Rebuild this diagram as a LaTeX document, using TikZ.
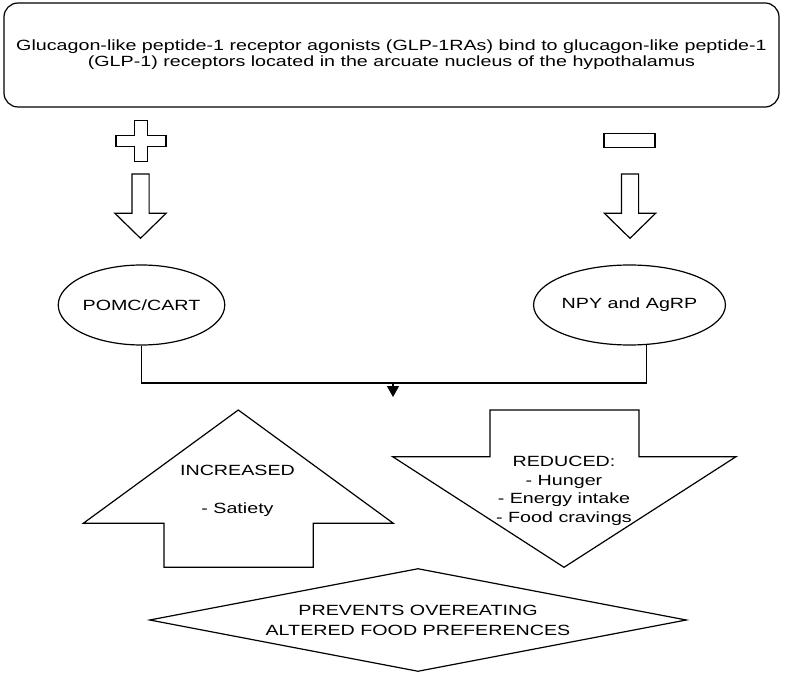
\documentclass[tikz,border=0pt]{standalone}
\usepackage{fontspec}
\setmainfont{Liberation Sans}[FakeStretch=1.33]
\usetikzlibrary{shapes.geometric, arrows.meta}
\tikzstyle{box} = [rectangle, rounded corners=14pt,
minimum width=775pt,
minimum height=104pt,
text centered,
align=center,
draw=black, line width=1.2pt,
font=\fontsize{14.8}{16.2}\selectfont]
\tikzstyle{cell} = [ellipse,
minimum width=147pt,
minimum height=80pt,
inner sep=0pt,
draw=black, line width=1.2pt,
font=\fontsize{14.8}{18.5}\selectfont]
\tikzstyle{outcome} = [diamond, aspect=5.2,
minimum width=537pt,
minimum height=103pt,
inner sep=0pt,
align=center,
draw=black, line width=1.2pt,
font=\fontsize{14.8}{20}\selectfont]
\tikzstyle{txt} = [align=center, font=\fontsize{14.8}{18.5}\selectfont]
\tikzstyle{outline} = [draw=black, line width=1.2pt, line join=miter]
\tikzstyle{wire} = [draw=black, line width=1.2pt]
\tikzstyle{arrow} = [wire, -{Triangle[width=12pt,length=11pt]}]

\begin{document}
\begin{tikzpicture}[x=1pt, y=-1pt]
    \useasboundingbox (0,0) rectangle (787,676);
    \node (top) [box] at (391.5,55) {Glucagon-like peptide-1 receptor agonists (GLP-1RAs) bind to glucagon-like peptide-1\\(GLP-1) receptors located in the arcuate nucleus of the hypothalamus};
    \node (pomc) [cell] at (141.5,305) {POMC/CART};
    \node (npy) [cell, right of=pomc, node distance=488pt] {NPY and AgRP};

    % plus and minus
    \draw [outline] (134.8,120.5) -- (147.2,120.5) -- (147.2,135.8) -- (166,135.8) -- (166,146.2) -- (147.2,146.2) -- (147.2,161.5) -- (134.8,161.5) -- (134.8,146.2) -- (116,146.2) -- (116,135.8) -- (134.8,135.8) -- cycle;
    \draw [outline] (604,133.3) rectangle (655,147.7);
    \foreach \c in {140.5,630}
        \draw [outline] ({\c-8.6},174) -- ({\c+8.6},174) -- ({\c+8.6},213.3) -- ({\c+25.6},213.3) -- (\c,238.3) -- ({\c-25.6},213.3) -- ({\c-8.6},213.3) -- cycle;

    \coordinate (join) at (393,383);
    \coordinate (aim) at (393,397);
    \draw [wire] (pomc.south) |- (join) -| (npy.-67);
    \draw [arrow] (join) -- (aim);

    % big arrows
    \draw [outline] (238.3,410) -- (393.3,523.3) -- (313.3,523.3) -- (313.3,567.3) -- (164,567.3) -- (164,523.3) -- (83.3,523.3) -- cycle;
    \draw [outline] (490,410) -- (639,410) -- (639,456.7) -- (736,456.7) -- (564,567.3) -- (392.7,456.7) -- (490,456.7) -- cycle;
    \node (up) [txt] at (237.5,490.6) {INCREASED\\[19.5pt]- Satiety};
    \node (down) [txt] at (564,491) {REDUCED:\\- Hunger\\- Energy intake\\- Food cravings};
    \node (end) [outcome] at (418,620) {PREVENTS OVEREATING\\ALTERED FOOD PREFERENCES};
\end{tikzpicture}
\end{document}
